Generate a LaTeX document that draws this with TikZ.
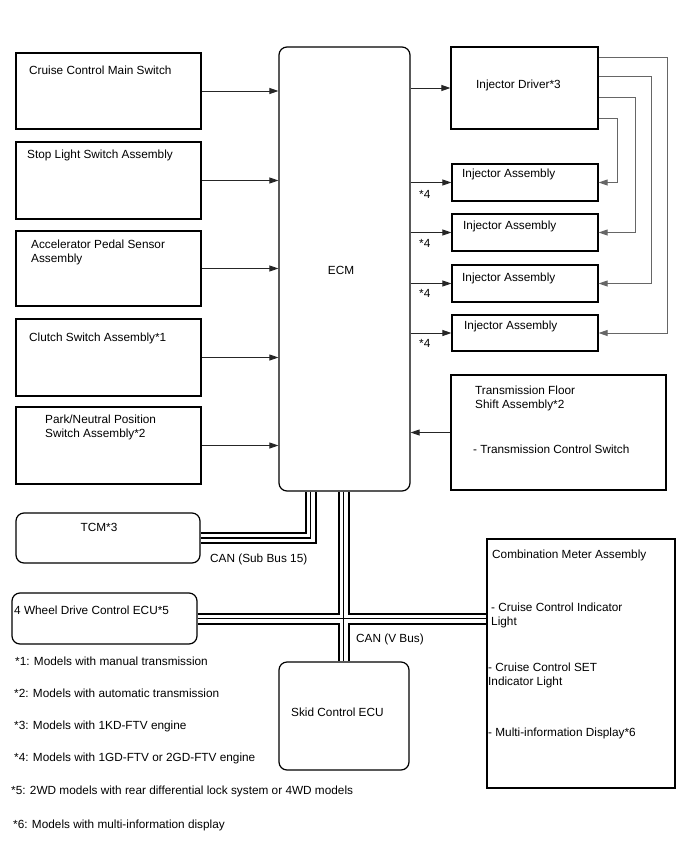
\documentclass[tikz,border=0pt]{standalone}
\usepackage{fontspec}
\setmainfont{Liberation Sans}
\usetikzlibrary{arrows.meta,fit,backgrounds,calc}
\begin{document}
\begin{tikzpicture}[x=1pt,y=-1pt,
  box/.style={draw=black,line width=1.2pt,inner sep=0pt},
  rbox/.style={box,rounded corners=8pt},
  txt/.style={anchor=west,inner sep=0pt,font=\fontsize{11.8}{14}\selectfont,align=left},
  arr/.style={draw=black!85,line width=0.9pt,-{Triangle[length=9pt,width=6pt]}},
  wire/.style={draw=black!60,line width=0.9pt,-{Triangle[length=9pt,width=6pt]}},
  busout/.style={line width=12pt,black},
  busmid/.style={line width=8pt,white},
  buscore/.style={line width=1.8pt,black},
]
\useasboundingbox (0,0) rectangle (688,852);
% boxes
\node[box,fit={(16,53) (201,129)}] (cruise) {};
\node[box,fit={(16,142) (201,219)}] (stop) {};
\node[box,fit={(16,231) (201,306)}] (accel) {};
\node[box,fit={(16,319) (201,396)}] (clutch) {};
\node[box,fit={(16,407) (201,484)}] (park) {};
\node[rbox,fit={(279,47) (410,491)}] (ecm) {};
\node[box,fit={(451,47) (598,129)}] (driver) {};
\node[box,fit={(452,164) (598,201)}] (inj1) {};
\node[box,fit={(452,214) (598,251)}] (inj2) {};
\node[box,fit={(452,265) (598,302)}] (inj3) {};
\node[box,fit={(452,315) (598,351)}] (inj4) {};
\node[box,fit={(451,375) (666,490)}] (trans) {};
\node[rbox,fit={(16,513) (200,563)}] (tcm) {};
\node[rbox,fit={(12,593) (197,644)}] (fwd) {};
\node[rbox,fit={(279,662) (409,770)}] (skid) {};
\node[box,fit={(487,539) (675,788)}] (comb) {};
% texts
\node[txt] at (29,70) {Cruise Control Main Switch};
\node[txt] at (27,155) {Stop Light Switch Assembly};
\node[txt] at (31,252) {Accelerator Pedal Sensor\\Assembly};
\node[txt] at (29,338) {Clutch Switch Assembly*1};
\node[txt] at (45,427) {Park/Neutral Position\\Switch Assembly*2};
\node[txt,anchor=center] at (341,270) {ECM};
\node[txt] at (476,85) {Injector Driver*3};
\node[txt] at (462,174) {Injector Assembly};
\node[txt] at (463,226) {Injector Assembly};
\node[txt] at (462,278) {Injector Assembly};
\node[txt] at (464,326) {Injector Assembly};
\node[txt] at (419,194) {*4};
\node[txt] at (419,243) {*4};
\node[txt] at (419,293) {*4};
\node[txt] at (419,343) {*4};
\node[txt] at (475,398) {Transmission Floor\\Shift Assembly*2};
\node[txt] at (473,449) {- Transmission Control Switch};
\node[txt,anchor=center] at (99,527) {TCM*3};
\node[txt] at (210,559) {CAN (Sub Bus 15)};
\node[txt] at (14,610) {4 Wheel Drive Control ECU*5};
\node[txt] at (356,639) {CAN (V Bus)};
\node[txt] at (291,712) {Skid Control ECU};
\node[txt] at (492,555) {Combination Meter Assembly};
\node[txt] at (491,615) {- Cruise Control Indicator\\Light};
\node[txt] at (488,675) {- Cruise Control SET\\Indicator Light};
\node[txt] at (488,733) {- Multi-information Display*6};
\node[txt] at (15,661) {*1: Models with manual transmission};
\node[txt] at (14,693) {*2: Models with automatic transmission};
\node[txt] at (14,726) {*3: Models with 1KD-FTV engine};
\node[txt] at (14,758) {*4: Models with 1GD-FTV or 2GD-FTV engine};
\node[txt] at (11,791) {*5: 2WD models with rear differential lock system or 4WD models};
\node[txt] at (13,825) {*6: Models with multi-information display};
% arrows into ECM
\foreach \n in {cruise,stop,accel,clutch,park}
  \draw[arr] (\n.east) -- (\n.east -| ecm.west);
\draw[arr] (trans.west) -- (trans.west -| ecm.east);
% arrows out of ECM
\foreach \n in {driver,inj1,inj2,inj3,inj4}
  \draw[arr] (ecm.east |- \n.west) -- (\n.west);
% driver wires
\draw[wire] ([yshift=-11pt]driver.north east) -| ([xshift=69pt]inj4.east) -- (inj4.east);
\draw[wire] ([yshift=-30pt]driver.north east) -| ([xshift=53pt]inj3.east) -- (inj3.east);
\draw[wire] ([yshift=-51pt]driver.north east) -| ([xshift=37pt]inj2.east) -- (inj2.east);
\draw[wire] ([yshift=-72pt]driver.north east) -| ([xshift=19pt]inj1.east) -- (inj1.east);
% CAN buses
\begin{scope}[on background layer]
\fill[white] (0,0) rectangle (688,852);
\foreach \s in {busout,busmid,buscore}{
  \draw[\s] (tcm.east) -| ([xshift=-34pt]ecm.south);
  \draw[\s] ([xshift=-1pt]ecm.south) -- ([xshift=-1pt]ecm.south |- skid.north);
  \draw[\s] (fwd.east) -- (fwd.east -| comb.west);
}
\end{scope}
\end{tikzpicture}
\end{document}
